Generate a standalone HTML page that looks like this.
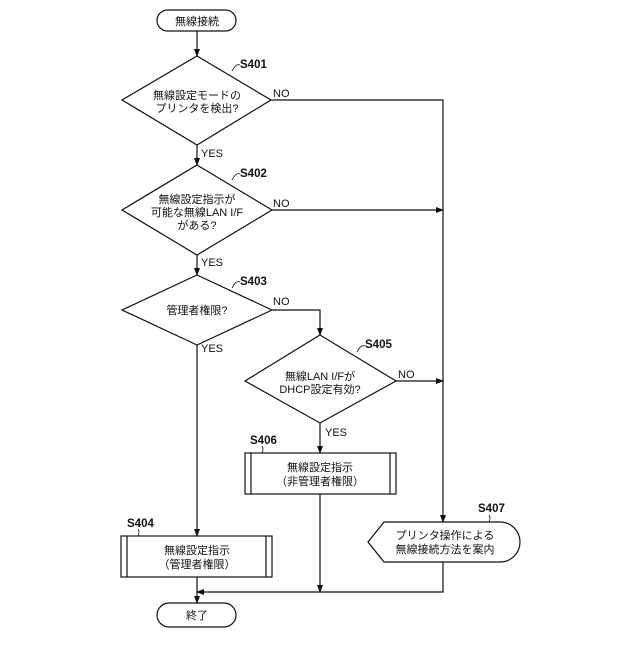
<!DOCTYPE html>
<html><head><meta charset="utf-8"><style>
body{margin:0;background:#fff}
svg text{font-family:"Liberation Sans","Noto Sans CJK JP",sans-serif;font-size:11px;fill:#111}
.b{font-weight:bold;font-size:11.5px}
</style></head><body>
<svg width="640" height="640" viewBox="0 0 640 640" xmlns="http://www.w3.org/2000/svg">
<defs><marker id="a" markerWidth="8" markerHeight="6" refX="7" refY="3" orient="auto" markerUnits="userSpaceOnUse"><path d="M0,0L8,3L0,6z" fill="#111"/></marker></defs>
<g fill="none" stroke="#111" stroke-width="1.2">
<rect x="157" y="10" width="79" height="21" rx="10.5"/>
<rect x="157" y="603" width="79" height="24" rx="12"/>
<polygon points="197,56 271,100 197,145 122,100"/>
<polygon points="197,165 272,210 197,255 122,210"/>
<polygon points="197,275 272,310 197,345 122,310"/>
<polygon points="320,335 396,381 320,423 245,381"/>
<rect x="245" y="453" width="151" height="41"/>
<line x1="251" y1="453" x2="251" y2="494"/><line x1="390" y1="453" x2="390" y2="494"/>
<rect x="121" y="536" width="151" height="41"/>
<line x1="127" y1="536" x2="127" y2="577"/><line x1="266" y1="536" x2="266" y2="577"/>
<path d="M368,542 L384,522 L500,522 A20,20 0 0 1 500,562 L384,562 Z"/>
<line x1="197" y1="31" x2="197" y2="56" marker-end="url(#a)"/>
<line x1="197" y1="145" x2="197" y2="165" marker-end="url(#a)"/>
<line x1="197" y1="255" x2="197" y2="275" marker-end="url(#a)"/>
<line x1="197" y1="345" x2="197" y2="536" marker-end="url(#a)"/>
<line x1="197" y1="577" x2="197" y2="603" marker-end="url(#a)"/>
<polyline points="272,310 320,310 320,335" marker-end="url(#a)"/>
<line x1="320" y1="423" x2="320" y2="453" marker-end="url(#a)"/>
<line x1="320" y1="494" x2="320" y2="592" marker-end="url(#a)"/>
<polyline points="271,100 443,100 443,522" marker-end="url(#a)"/>
<line x1="272" y1="210" x2="443" y2="210" marker-end="url(#a)"/>
<line x1="396" y1="381" x2="443" y2="381" marker-end="url(#a)"/>
<polyline points="443,562 443,592 197,592" marker-end="url(#a)"/>
<path d="M232,71 q4,-8 8,-6" stroke-width="0.8"/>
<path d="M232,180 q4,-8 8,-6" stroke-width="0.8"/>
<path d="M232,288 q4,-8 8,-6" stroke-width="0.8"/>
<path d="M357,352 q4,-8 8,-6" stroke-width="0.8"/>
<path d="M262,453 q2,-4 0,-7" stroke-width="0.8"/>
<path d="M138,536 q2,-4 0,-7" stroke-width="0.8"/>
<path d="M489,522 q2,-4 0,-7" stroke-width="0.8"/>
</g>
<g text-anchor="middle">
<text x="197" y="25">無線接続</text>
<text x="197" y="619">終了</text>
<text x="197" y="99">無線設定モードの</text>
<text x="197" y="112">プリンタを検出?</text>
<text x="197" y="203">無線設定指示が</text>
<text x="197" y="216">可能な無線LAN I/F</text>
<text x="197" y="229">がある?</text>
<text x="197" y="314">管理者権限?</text>
<text x="320" y="380">無線LAN I/Fが</text>
<text x="320" y="393">DHCP設定有効?</text>
<text x="320" y="471">無線設定指示</text>
<text x="320" y="485">（非管理者権限）</text>
<text x="197" y="554">無線設定指示</text>
<text x="197" y="568">（管理者権限）</text>
<text x="445" y="539">プリンタ操作による</text>
<text x="445" y="553">無線接続方法を案内</text>
</g>
<g>
<text x="273" y="97">NO</text>
<text x="273" y="207">NO</text>
<text x="273" y="305">NO</text>
<text x="398" y="378">NO</text>
<text x="201" y="157">YES</text>
<text x="201" y="266">YES</text>
<text x="201" y="352">YES</text>
<text x="325" y="436">YES</text>
<text class="b" x="240" y="68">S401</text>
<text class="b" x="240" y="177">S402</text>
<text class="b" x="240" y="285">S403</text>
<text class="b" x="365" y="348">S405</text>
<text class="b" x="250" y="444">S406</text>
<text class="b" x="127" y="527">S404</text>
<text class="b" x="478" y="512">S407</text>
</g>
</svg>
</body></html>
